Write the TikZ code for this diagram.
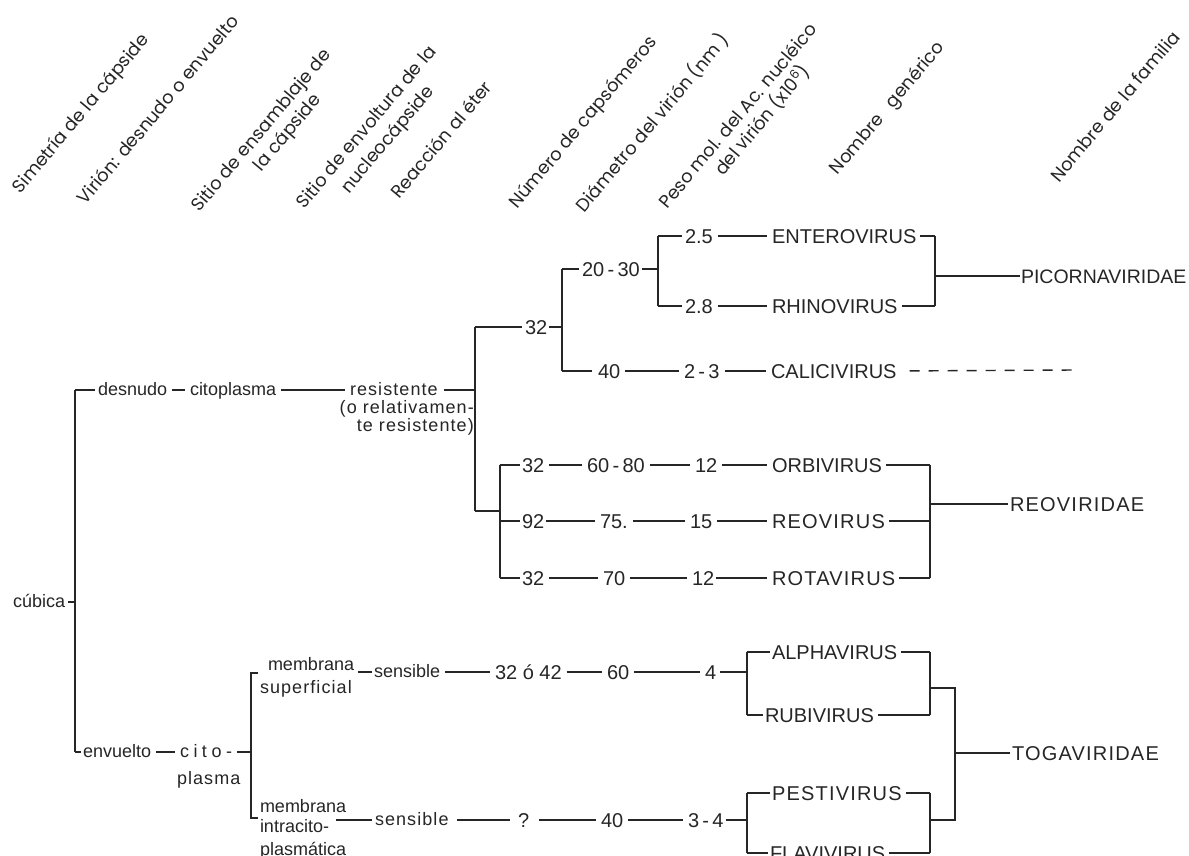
\documentclass[tikz,border=0pt]{standalone}
\usepackage{fontspec}
\setmainfont{Liberation Sans}
\newfontfamily\hdr{Poppins}
\newfontfamily\spc[LetterSpace=6]{Liberation Sans}
\newfontfamily\spcw[LetterSpace=25]{Liberation Sans}
\begin{document}
\begin{tikzpicture}[x=1pt,y=-1pt,
  t/.style={inner sep=0pt, outer sep=0pt, anchor=west, text height=10pt, text depth=0pt, font=\fontsize{18}{20}\selectfont},
  sp/.style={font=\spc\fontsize{18}{20}\selectfont},
  spw/.style={font=\spcw\fontsize{18}{20}\selectfont},
  capt/.style={inner sep=0pt, outer sep=0pt, anchor=west, text height=14.4pt, text depth=0pt, font=\fontsize{20}{22}\selectfont},
  capsp/.style={capt, font=\spc\fontsize{20}{22}\selectfont},
  num/.style={capt},
  hd/.style={inner sep=0pt, anchor=base east, rotate=50, font=\hdr\fontsize{18}{20}\selectfont},
  ln/.style={line width=1.8pt, black!85},
  gap/.style={ln, shorten <=5pt, shorten >=5pt},
  gl/.style={ln, shorten <=4pt},
  gr/.style={ln, shorten >=3pt},
  every node/.style={text=black!85}
]
\useasboundingbox (0,0) rectangle (1189,856);
\clip (0,0) rectangle (1189,856);
\fill[white] (0,0) rectangle (1189,856);

% ---------- header ----------
\node[hd] (h1) at (150,40) {Simetría de la cápside};
\node[hd] (h2) at (240,22) {Virión: desnudo o envuelto};
\node[hd] (h3a) at (332,55) {Sitio de ensamblaje de};
\node[hd] (h3b) at (322,100) {la cápside};
\node[hd] (h4a) at (437,52) {Sitio de envoltura de la};
\node[hd] (h4b) at (435,92) {nucleocápside};
\node[hd] (h5) at (493,88) {Reacción al éter};
\node[hd] (h6) at (658,42) {Número de capsómeros};
\node[hd] (h7) at (730,40) {Diámetro del virión (nm )};
\node[hd] (h8a) at (818,30) {Peso mol. del Ac. nucléico};
\node[hd] (h8b) at (811,72) {del virión (x10\textsuperscript{6})};
\node[hd] (h9) at (945,48) {Nombre\hspace{14pt}genérico};
\node[hd] (h10) at (1181,38) {Nombre de la familia};

% ---------- coordinates ----------
\coordinate (a1) at (75,390);  \coordinate (a2) at (75,752);  \coordinate (am) at (75,602);
\coordinate (b1) at (475,327); \coordinate (b2) at (475,511); \coordinate (bm) at (475,390);
\coordinate (c1) at (562,269); \coordinate (c2) at (562,371); \coordinate (cm) at (562,327);
\coordinate (d1) at (658,236); \coordinate (d2) at (658,306); \coordinate (dm) at (658,269);
\coordinate (e1) at (935,236); \coordinate (e2) at (935,306); \coordinate (em) at (935,276);
\coordinate (f0) at (500,511); \coordinate (f1) at (500,465); \coordinate (f2) at (500,521); \coordinate (f3) at (500,578);
\coordinate (g1) at (930,465); \coordinate (g2) at (930,521); \coordinate (g3) at (930,578); \coordinate (gm) at (930,504);
\coordinate (k1) at (251,673); \coordinate (k2) at (251,818); \coordinate (km) at (251,752);
\coordinate (k1t) at (258,673); \coordinate (k2t) at (258,818);
\coordinate (m1) at (747,652); \coordinate (m2) at (747,715); \coordinate (mm) at (747,672);
\coordinate (n1) at (930,652); \coordinate (n2) at (930,715); \coordinate (nm) at (930,688);
\coordinate (p1) at (747,793); \coordinate (p2) at (747,853); \coordinate (pm) at (747,820);
\coordinate (q1) at (930,793); \coordinate (q2) at (930,853); \coordinate (qm) at (930,820);
\coordinate (r1) at (955,688); \coordinate (r2) at (955,820); \coordinate (rm) at (955,753);
\coordinate (dashend) at (1075,370);

% ---------- left ----------
\node[t] (cub) at (13,602) {cúbica};
\node[t] (desn) at (98,390) {desnudo};
\node[t] (cit1) at (190,390) {citoplasma};
\node[t,sp] (res) at (350,390) {resistente};
\node[inner sep=0pt, anchor=north east, align=right, font=\spc\fontsize{18}{18}\selectfont] (resn) at (474,400) {(o relativamen-\\te resistente)};

% picornaviridae block
\node[num] (n32a) at (525,327) {32};
\node[num] (n2030) at (582,269) {20\,-\,30};
\node[num] (n25) at (685,236) {2.5};
\node[capt] (ent) at (772,236) {ENTEROVIRUS};
\node[num] (n28) at (685,306) {2.8};
\node[capt] (rhi) at (772,306) {RHINOVIRUS};
\node[capt, font=\fontsize{19.5}{22}\selectfont] (pic) at (1021,276) {PICORNAVIRIDAE};
\node[num] (n40a) at (598,371) {40};
\node[num] (n23) at (684,371) {2\,-\,3};
\node[capt] (cal) at (771,371) {CALICIVIRUS};

% reoviridae block
\node[num] (n32b) at (522,465) {32};
\node[num] (n6080) at (587,465) {60\,-\,80};
\node[num] (n12a) at (695,465) {12};
\node[capt] (orb) at (772,465) {ORBIVIRUS};
\node[num] (n92) at (522,521) {92};
\node[num] (n75) at (600,521) {75.};
\node[num] (n15) at (690,521) {15};
\node[capsp] (reo) at (772,521) {REOVIRUS};
\node[num] (n32c) at (522,578) {32};
\node[num] (n70) at (603,578) {70};
\node[num] (n12b) at (692,578) {12};
\node[capsp] (rot) at (772,578) {ROTAVIRUS};
\node[capsp] (reov) at (1010,504) {REOVIRIDAE};

% togaviridae block
\node[t] (env) at (83,752) {envuelto};
\node[t,spw] (cito) at (180,752) {cito-};
\node[t,sp] (plasma) at (177,779) {plasma};
\node[t] (mem1) at (268,665) {membrana};
\node[t,sp] (sup) at (260,688) {superficial};
\node[t] (sen1) at (374,672) {sensible};
\node[num] (n3242) at (495,672) {32 ó 42};
\node[num] (n60a) at (607,672) {60};
\node[num] (n4) at (705,672) {4};
\node[capt] (alp) at (772,652) {ALPHAVIRUS};
\node[capt] (rub) at (765,715) {RUBIVIRUS};
\node[capsp] (toga) at (1012,753) {TOGAVIRIDAE};
\node[t] (mem2) at (260,807) {membrana};
\node[t] (intr) at (260,827) {intracito-};
\node[t] (plas) at (260,850) {plasmática};
\node[t,sp] (sen2) at (375,820) {sensible};
\node[num] (q) at (518,820) {?};
\node[num] (n40b) at (601,820) {40};
\node[num] (n34) at (688,820) {3\,-\,4};
\node[capsp] (pes) at (772,793) {PESTIVIRUS};
\node[capt] (fla) at (770,853) {FLAVIVIRUS};

% ---------- connectors ----------
\draw[ln, shorten <=3pt] (cub.east) -- (am);
\draw[ln] (a1) -- (a2);
\draw[gr] (a1) -- (desn.west);
\draw[gap] (desn.east) -- (cit1.west);
\draw[gap] (cit1.east) -- (res.west);
\draw[ln, shorten <=6pt] (res.east) -- (bm);
\draw[ln] (b1) -- (b2);
\draw[gr] (b1) -- (n32a.west);
\draw[ln, shorten <=2pt] (n32a.east) -- (cm);
\draw[ln] (c1) -- (c2);
\draw[gr] (c1) -- (n2030.west);
\draw[ln, shorten <=2pt] (n2030.east) -- (dm);
\draw[ln] (d1) -- (d2);
\draw[gr] (d1) -- (n25.west);
\draw[gr] (d2) -- (n28.west);
\draw[gap] (n25.east) -- (ent.west);
\draw[gap] (n28.east) -- (rhi.west);
\draw[gl] (ent.east) -- (e1);
\draw[gl] (rhi.east) -- (e2);
\draw[ln] (e1) -- (e2);
\draw[ln, shorten >=1pt] (em) -- (pic.west);
\draw[ln, shorten >=6pt] (c2) -- (n40a.west);
\draw[gap] (n40a.east) -- (n23.west);
\draw[gap] (n23.east) -- (cal.west);
\draw[line width=1.4pt, black!85, dash pattern=on 10pt off 9pt, shorten <=13pt] (cal.east) -- (dashend);

\draw[ln] (b2) -- (f0);
\draw[ln] (f1) -- (f3);
\draw[ln, shorten >=2pt] (f1) -- (n32b.west);
\draw[ln, shorten >=2pt] (f2) -- (n92.west);
\draw[ln, shorten >=2pt] (f3) -- (n32c.west);
\draw[gap] (n32b.east) -- (n6080.west);
\draw[gap] (n6080.east) -- (n12a.west);
\draw[gap] (n12a.east) -- (orb.west);
\draw[ln, shorten <=2pt, shorten >=5pt] (n92.east) -- (n75.west);
\draw[gap] (n75.east) -- (n15.west);
\draw[gap] (n15.east) -- (reo.west);
\draw[gap] (n32c.east) -- (n70.west);
\draw[gap] (n70.east) -- (n12b.west);
\draw[ln, shorten <=2pt, shorten >=5pt] (n12b.east) -- (rot.west);
\draw[gl] (orb.east) -- (g1);
\draw[gl] (reo.east) -- (g2);
\draw[gl] (rot.east) -- (g3);
\draw[ln] (g1) -- (g3);
\draw[ln, shorten >=2pt] (gm) -- (reov.west);

\draw[ln, shorten >=2pt] (a2) -- (env.west);
\draw[gap] (env.east) -- (cito.west);
\draw[ln, shorten <=5pt] (cito.east) -- (km);
\draw[ln] (k1t) -- (k1) -- (k2) -- (k2t);
\draw[ln, shorten <=4pt, shorten >=2pt] (mem1.east |- sen1.west) -- (sen1.west);
\draw[gap] (sen1.east) -- (n3242.west);
\draw[gap] (n3242.east) -- (n60a.west);
\draw[gap] (n60a.east) -- (n4.west);
\draw[gl] (n4.east) -- (mm);
\draw[ln] (m1) -- (m2);
\draw[ln, shorten >=2pt] (m1) -- (alp.west);
\draw[ln, shorten >=2pt] (m2) -- (rub.west);
\draw[gl] (alp.east) -- (n1);
\draw[gl] (rub.east) -- (n2);
\draw[ln] (n1) -- (n2);
\draw[ln] (nm) -- (r1) -- (r2) -- (qm);
\draw[ln, shorten >=2pt] (rm) -- (toga.west);
\draw[ln, shorten <=7pt, shorten >=3pt] (intr.east |- sen2.west) -- (sen2.west);
\draw[ln, shorten <=8pt, shorten >=8pt] (sen2.east) -- (q.west);
\draw[ln, shorten <=10pt, shorten >=5pt] (q.east) -- (n40b.west);
\draw[gap] (n40b.east) -- (n34.west);
\draw[ln, shorten <=2pt] (n34.east) -- (pm);
\draw[ln] (p1) -- (p2);
\draw[ln, shorten >=2pt] (p1) -- (pes.west);
\draw[ln, shorten >=2pt] (p2) -- (fla.west);
\draw[gl] (pes.east) -- (q1);
\draw[gl] (fla.east) -- (q2);
\draw[ln] (q1) -- (q2);
\end{tikzpicture}
\end{document}
